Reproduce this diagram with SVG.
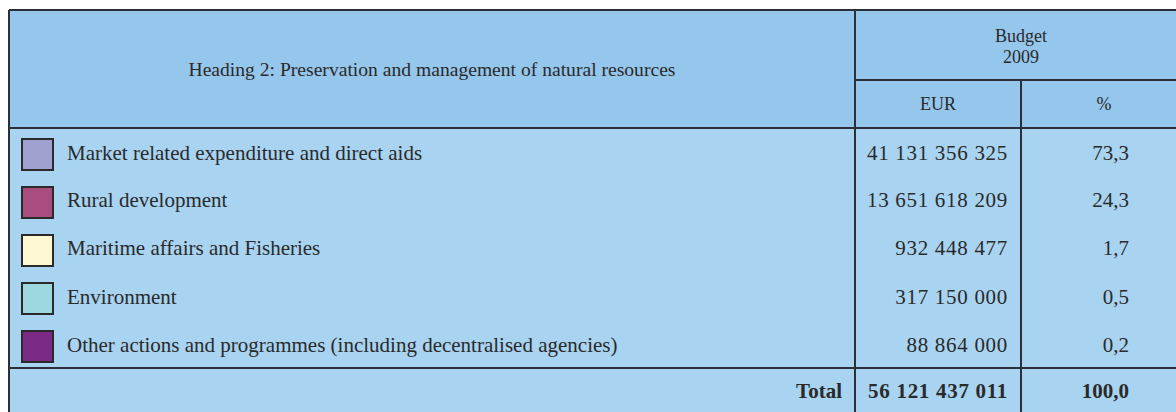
<svg xmlns="http://www.w3.org/2000/svg" width="1176" height="412" viewBox="0 0 1176 412">
<style>
text{font-family:"Liberation Serif","DejaVu Serif",serif;font-size:21px;fill:#2a2a2a}
.h{font-size:18px}
.c{text-anchor:middle}
.r{text-anchor:end}
.b{font-weight:bold}
.n{letter-spacing:0.7px}
.ln{stroke:#2c2f36;stroke-width:2;fill:none}
.sw{stroke:#2a2a2a;stroke-width:2}
</style>
<rect x="0" y="0" width="1176" height="412" fill="#ffffff"/>
<g id="table">
<rect x="9" y="10" width="1180" height="118" fill="#95c6ec"/>
<rect x="9" y="128" width="1180" height="290" fill="#a8d3f1"/>
<line class="ln" x1="9" y1="10" x2="1190" y2="10"/>
<line class="ln" x1="9" y1="10" x2="9" y2="420"/>
<line class="ln" x1="9" y1="128" x2="1190" y2="128"/>
<line class="ln" x1="855" y1="10" x2="855" y2="420"/>
<line class="ln" x1="855" y1="80" x2="1190" y2="80"/>
<line class="ln" x1="1021" y1="80" x2="1021" y2="420"/>
<line class="ln" x1="9" y1="368" x2="1190" y2="368"/>
</g>
<g id="header">
<text class="c" x="432" y="76" style="font-size:19.6px">Heading 2: Preservation and management of natural resources</text>
<text class="c h" x="1021" y="42">Budget</text>
<text class="c h" x="1021" y="63">2009</text>
<text class="c h" x="938" y="110">EUR</text>
<text class="c h" x="1104" y="110">%</text>
</g>
<g id="row1">
<rect class="sw" x="22" y="139" width="31" height="31" fill="#a0a0d0"/>
<text x="67" y="160">Market related expenditure and direct aids</text>
<text class="r n" x="1008" y="160">41 131 356 325</text>
<text class="r" x="1129" y="160">73,3</text>
</g>
<g id="row2">
<rect class="sw" x="22" y="187" width="31" height="31" fill="#a84d7e"/>
<text x="67" y="207">Rural development</text>
<text class="r n" x="1008" y="207">13 651 618 209</text>
<text class="r" x="1129" y="207">24,3</text>
</g>
<g id="row3">
<rect class="sw" x="22" y="235" width="31" height="31" fill="#fdf8d2"/>
<text x="67" y="255">Maritime affairs and Fisheries</text>
<text class="r n" x="1008" y="255">932 448 477</text>
<text class="r" x="1129" y="255">1,7</text>
</g>
<g id="row4">
<rect class="sw" x="22" y="283" width="31" height="31" fill="#9dd8e0"/>
<text x="67" y="304">Environment</text>
<text class="r n" x="1008" y="304">317 150 000</text>
<text class="r" x="1129" y="304">0,5</text>
</g>
<g id="row5">
<rect class="sw" x="22" y="331" width="31" height="31" fill="#7b2a85"/>
<text x="67" y="352">Other actions and programmes (including decentralised agencies)</text>
<text class="r n" x="1008" y="352">88 864 000</text>
<text class="r" x="1129" y="352">0,2</text>
</g>
<g id="total">
<text class="r b" x="842" y="398">Total</text>
<text class="r b n" x="1008" y="398">56 121 437 011</text>
<text class="r b" x="1129" y="398">100,0</text>
</g>
</svg>
